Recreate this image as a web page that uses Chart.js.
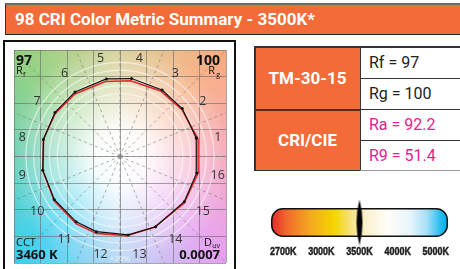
<!DOCTYPE html>
<html>
<head>
<meta charset="utf-8">
<script src="https://cdn.jsdelivr.net/npm/chart.js@4.4.1/dist/chart.umd.min.js"></script>
<style>
  html, body { margin: 0; padding: 0; background: #fff; }
  body { width: 460px; height: 269px; position: relative; overflow: hidden; font-family: Roboto, sans-serif; }
  .abs { position: absolute; box-sizing: border-box; }
  .title { left: 5px; top: 3px; width: 460px; height: 32px; background: #f26b38; border-top: 2px solid #6b6b6b; border-left: 1.5px solid #333; border-bottom: 1.5px solid #222; color: #fff; font-weight: bold; font-size: 17px; line-height: 28px; padding-left: 9px; }
  .box { left: 3px; top: 40px; width: 233px; height: 240px; border: 2px solid #111; }
  .lab { background: #f26b38; color: #fff; font-weight: bold; font-size: 17px; display: flex; align-items: center; justify-content: center; }
  .val { background: #fff; font-size: 16px; padding-left: 9px; display: flex; align-items: center; color: #222; }
  .pink { color: #e5208f; }
  .ln { background: #333; }
</style>
</head>
<body>
<div class="abs title" id="title"></div>
<div class="abs box"></div>
<canvas id="cvg" class="abs" width="220" height="221" style="left:10px;top:46px"></canvas>

<div class="abs lab" style="left:255px;top:47px;width:105px;height:62px">TM-30-15</div>
<div class="abs lab" style="left:255px;top:109px;width:105px;height:61px">CRI/CIE</div>
<div class="abs val" id="rf" style="left:360px;top:47px;width:110px;height:31px"></div>
<div class="abs val" id="rg" style="left:360px;top:78px;width:110px;height:31px"></div>
<div class="abs val pink" id="ra" style="left:360px;top:109px;width:110px;height:31px"></div>
<div class="abs val pink" id="r9" style="left:360px;top:140px;width:110px;height:30px"></div>
<div class="abs ln" style="left:254px;top:46px;width:210px;height:1.5px"></div>
<div class="abs ln" style="left:254px;top:46px;width:1.5px;height:125px"></div>
<div class="abs ln" style="left:359.5px;top:46px;width:1.5px;height:125px"></div>
<div class="abs ln" style="left:360px;top:77.5px;width:110px;height:1.5px"></div>
<div class="abs ln" style="left:254px;top:108.5px;width:106px;height:2px;background:#5a2a12"></div>
<div class="abs ln" style="left:360px;top:108.5px;width:110px;height:1.5px"></div>
<div class="abs ln" style="left:360px;top:139.5px;width:110px;height:1.5px"></div>
<div class="abs ln" style="left:254px;top:169.5px;width:106px;height:1.5px"></div>
<div class="abs ln" style="left:360px;top:169.5px;width:110px;height:1.5px;background:#999"></div>

<canvas id="cbar" class="abs" width="187" height="64" style="left:266px;top:198px"></canvas>

<script>
// summary numbers
const titleText = "98 CRI Color Metric Summary - 3500K*"
const rf = 97
const rg = 100
const ra = 92.2
const r9 = 51.4
const cct = 3460
const duv = 0.0007

// 16 hue bins: reference (black) and test (red) vectors, angle in degrees, radius relative to reference circle
const binLabels = ["1", "2", "3", "4", "5", "6", "7", "8", "9", "10", "11", "12", "13", "14", "15", "16"]
const refAngles = [13.5, 37.5, 57.5, 81.5, 100, 125, 146, 167.5, 190, 213, 236, 252.5, 276, 297, 325, 348]
const refRadius = [1, 1, 1, 1, 1, 1, 1, 1, 1, 1, 1, 1, 1, 1, 1, 1]
const testAngles = [12.5, 37, 58, 82, 101, 126, 146.5, 167, 190.5, 214, 237, 253, 275, 296, 324, 348.5]
const testRadius = [1.02, 0.99, 0.98, 0.97, 0.97, 0.98, 0.99, 1.0, 1.0, 1.01, 1.02, 1.02, 1.01, 1.0, 1.01, 1.02]
const ringRadii = [0.8, 0.9, 1.0, 1.1, 1.2]

// colour temperature bar
const cctLabels = ["2700K", "3000K", "3500K", "4000K", "5000K"]
const cctValues = [2700, 3000, 3500, 4000, 5000]
const markerCct = 3500

document.getElementById("title").textContent = titleText
document.getElementById("rf").textContent = "Rf = " + rf
document.getElementById("rg").textContent = "Rg = " + rg
document.getElementById("ra").textContent = "Ra = " + ra
document.getElementById("r9").textContent = "R9 = " + r9

const REF_R = 2.96      // reference circle in grid units
const LABEL_R = 1.27    // bin number position

const hueStops = [
  [0, "#f59cb4"], [45, "#f7aa7c"], [90, "#d4c98a"], [135, "#8fcf7c"],
  [180, "#55c9aa"], [225, "#35cff0"], [270, "#acd0f5"], [315, "#e59ef0"]
]

function polar(angles, radius) {
  let pts = []
  for (let i = 0; i < angles.length; i++) {
    let a = angles[i] * Math.PI / 180
    pts.push({ x: REF_R * radius[i] * Math.cos(a), y: REF_R * radius[i] * Math.sin(a) })
  }
  pts.push(pts[0])
  return pts
}

const backdrop = {
  id: "backdrop",
  beforeDraw(chart) {
    const { ctx, chartArea: a, scales } = chart
    const cx = scales.x.getPixelForValue(0)
    const cy = scales.y.getPixelForValue(0)
    ctx.save()
    const g = ctx.createConicGradient(0, cx, cy)
    hueStops.forEach(([deg, col]) => g.addColorStop(((360 - deg) % 360) / 360, col))
    g.addColorStop(1, hueStops[0][1])
    ctx.fillStyle = g
    ctx.fillRect(a.left, a.top, a.width, a.height)
    const w = ctx.createRadialGradient(cx, cy, 0, cx, cy, 150)
    w.addColorStop(0, "rgba(255,255,255,1)")
    w.addColorStop(0.18, "rgba(255,255,255,0.95)")
    w.addColorStop(0.45, "rgba(255,255,255,0.55)")
    w.addColorStop(0.75, "rgba(255,255,255,0.1)")
    w.addColorStop(1, "rgba(255,255,255,0)")
    ctx.fillStyle = w
    ctx.fillRect(a.left, a.top, a.width, a.height)
    ctx.restore()
  },
  beforeDatasetsDraw(chart) {
    const { ctx, chartArea: a, scales } = chart
    const cx = scales.x.getPixelForValue(0)
    const cy = scales.y.getPixelForValue(0)
    const unit = scales.x.getPixelForValue(REF_R) - cx
    ctx.save()
    ctx.beginPath()
    ctx.rect(a.left, a.top, a.width, a.height)
    ctx.clip()
    ctx.strokeStyle = "rgba(255,255,255,0.6)"
    ctx.lineWidth = 1.2
    ringRadii.forEach(r => {
      ctx.beginPath()
      ctx.arc(cx, cy, r * unit, 0, Math.PI * 2)
      ctx.stroke()
    })
    ctx.strokeStyle = "rgba(120,120,120,0.6)"
    ctx.lineWidth = 1
    ctx.setLineDash([3, 3])
    for (let k = 0; k < 16; k++) {
      let t = k * 22.5 * Math.PI / 180
      ctx.beginPath()
      ctx.moveTo(cx, cy)
      ctx.lineTo(cx + 200 * Math.cos(t), cy - 200 * Math.sin(t))
      ctx.stroke()
    }
    ctx.setLineDash([])
    ctx.restore()
  },
  afterDraw(chart) {
    const { ctx, chartArea: a, scales } = chart
    const cx = scales.x.getPixelForValue(0)
    const cy = scales.y.getPixelForValue(0)
    const unit = scales.x.getPixelForValue(REF_R) - cx
    ctx.save()
    ctx.fillStyle = "#333"
    ctx.font = "12.5px 'Open Sans'"
    ctx.textAlign = "center"
    ctx.textBaseline = "middle"
    binLabels.forEach((lab, i) => {
      let t = (11.25 + 22.5 * i) * Math.PI / 180
      ctx.fillText(lab, cx + LABEL_R * unit * Math.cos(t), cy - LABEL_R * unit * Math.sin(t))
    })
    ctx.fillStyle = "rgba(255,255,255,0.8)"
    ctx.font = "8px 'Open Sans'"
    ctx.fillText("+20%", cx, cy + 1.3 * unit)

    ctx.fillStyle = "#111"
    ctx.textBaseline = "alphabetic"
    ctx.textAlign = "left"
    ctx.font = "bold 14px 'Open Sans'"
    ctx.fillText(String(rf), a.left + 2, a.top + 15)
    ctx.font = "11px 'Open Sans'"
    ctx.fillText("R", a.left + 2, a.top + 24)
    ctx.font = "7px 'Open Sans'"
    ctx.fillText("f", a.left + 9, a.top + 27)
    ctx.textAlign = "right"
    ctx.font = "bold 14px 'Open Sans'"
    ctx.fillText(String(rg), a.right - 6, a.top + 15)
    ctx.font = "7px 'Open Sans'"
    ctx.fillText("g", a.right - 6, a.top + 27)
    ctx.font = "11px 'Open Sans'"
    ctx.fillText("R", a.right - 11, a.top + 24)

    ctx.textAlign = "left"
    ctx.font = "11px 'Open Sans'"
    ctx.fillText("CCT", a.left + 2, a.bottom - 17)
    ctx.font = "bold 13px 'Open Sans'"
    ctx.fillText(cct + " K", a.left + 2, a.bottom - 4)
    ctx.textAlign = "right"
    ctx.fillText(duv.toFixed(4), a.right - 6, a.bottom - 4)
    ctx.font = "7px 'Open Sans'"
    ctx.fillText("uv", a.right - 6, a.bottom - 15)
    ctx.font = "11px 'Open Sans'"
    ctx.fillText("D", a.right - 14, a.bottom - 17)
    ctx.restore()
  }
}

new Chart(document.getElementById("cvg"), {
  type: "scatter",
  data: {
    datasets: [
      {
        data: polar(refAngles, refRadius),
        showLine: true,
        borderColor: "#111",
        borderWidth: 1.2,
        pointRadius: 1.5,
        pointBackgroundColor: "#111",
        pointBorderWidth: 0,
        order: 0,
      },
      {
        data: polar(testAngles, testRadius),
        showLine: true,
        borderColor: "#e8262a",
        borderWidth: 1.6,
        pointRadius: 0,
        order: 1,
      },
    ],
  },
  options: {
    responsive: false,
    animation: false,
    events: [],
    layout: { padding: 0 },
    plugins: { legend: { display: false }, tooltip: { enabled: false } },
    scales: {
      x: {
        min: -4, max: 4,
        ticks: { display: false, stepSize: 1 },
        grid: { color: "rgba(105,105,105,0.6)", drawTicks: false },
        border: { display: false },
      },
      y: {
        min: -4, max: 4,
        ticks: { display: false, stepSize: 1 },
        grid: { color: "rgba(105,105,105,0.6)", drawTicks: false },
        border: { display: false },
      },
    },
  },
  plugins: [backdrop],
})

// temperature bar
const barStops = [
  [0, "#e3262a"], [0.09, "#f26a2b"], [0.22, "#f4a81f"], [0.36, "#f3d600"],
  [0.45, "#f5e27e"], [0.54, "#fbf2cf"], [0.66, "#fffdf8"], [0.79, "#e6f4fc"],
  [0.88, "#a6def6"], [0.97, "#12b8ee"], [1, "#0db5ee"]
]

function cctIndex(k) {
  for (let i = 0; i < cctValues.length - 1; i++) {
    if (k <= cctValues[i + 1]) return i + (k - cctValues[i]) / (cctValues[i + 1] - cctValues[i])
  }
  return cctValues.length - 1
}

const lens = document.createElement("canvas")
lens.width = 12
lens.height = 46
let lc = lens.getContext("2d")
lc.beginPath()
lc.moveTo(6, 0)
lc.quadraticCurveTo(12, 23, 6, 46)
lc.quadraticCurveTo(0, 23, 6, 0)
lc.fillStyle = "#000"
lc.fill()

const barPlugin = {
  id: "barPlugin",
  beforeDatasetsDraw(chart) {
    const { ctx, chartArea: a } = chart
    ctx.save()
    const g = ctx.createLinearGradient(a.left, 0, a.right, 0)
    barStops.forEach(([p, c]) => g.addColorStop(p, c))
    ctx.beginPath()
    ctx.roundRect(a.left + 0.75, a.top + 0.75, a.width - 1.5, a.height - 1.5, 11)
    ctx.fillStyle = g
    ctx.fill()
    ctx.lineWidth = 1.5
    ctx.strokeStyle = "#111"
    ctx.stroke()
    ctx.restore()
  },
  afterDraw(chart) {
    // condensed tick text at the axis positions
    const { ctx, chartArea: a, scales } = chart
    ctx.save()
    ctx.fillStyle = "#222"
    ctx.strokeStyle = "#222"
    ctx.lineWidth = 0.5
    ctx.font = "bold 11.5px 'Liberation Sans'"
    ctx.textAlign = "center"
    ctx.textBaseline = "middle"
    scales.x.ticks.forEach((t) => {
      const px = scales.x.getPixelForValue(t.value)
      ctx.save()
      ctx.translate(px, a.bottom + 15)
      ctx.scale(0.78, 1)
      ctx.fillText(cctLabels[t.value], 0, 0)
      ctx.strokeText(cctLabels[t.value], 0, 0)
      ctx.restore()
    })
    ctx.restore()
  }
}

new Chart(document.getElementById("cbar"), {
  type: "scatter",
  data: {
    datasets: [{
      data: [{ x: cctIndex(markerCct), y: 0.5 }],
      pointStyle: lens,
      clip: false,
    }],
  },
  options: {
    responsive: false,
    animation: false,
    events: [],
    layout: { padding: { top: 10, left: 0, right: 0, bottom: 25 } },
    plugins: { legend: { display: false }, tooltip: { enabled: false } },
    scales: {
      x: {
        min: -0.32, max: 4.32,
        afterBuildTicks: (axis) => { axis.ticks = cctLabels.map((l, i) => ({ value: i })) },
        ticks: { display: false },
        grid: { display: false, drawTicks: false },
        border: { display: false },
      },
      y: { min: 0, max: 1, display: false },
    },
  },
  plugins: [barPlugin],
})
</script>
</body>
</html>
